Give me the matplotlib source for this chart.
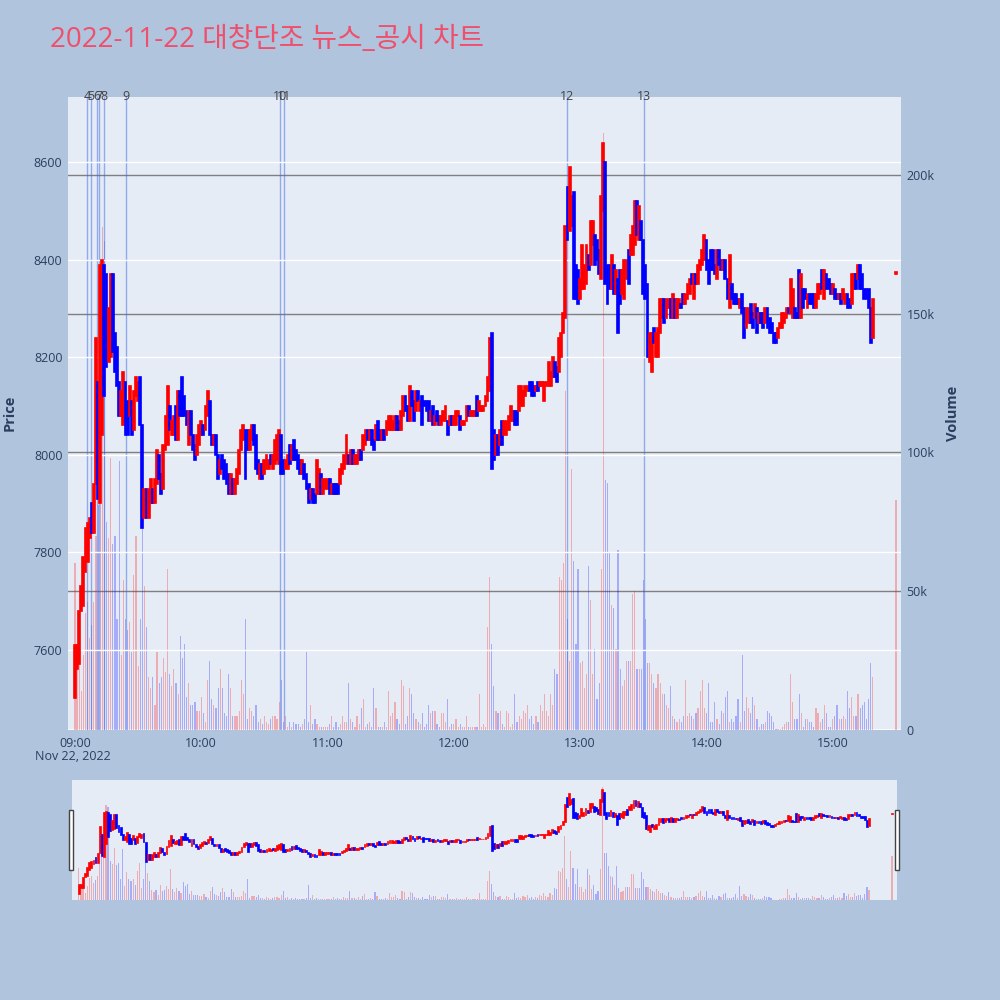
import numpy as np
import pandas as pd
import matplotlib
matplotlib.use("Agg")
import matplotlib.pyplot as plt
import matplotlib.dates as mdates
import matplotlib.transforms as mtransforms
from matplotlib.patches import Rectangle
from matplotlib.ticker import FixedLocator, FuncFormatter

plt.rcParams['font.family'] = ['Open Sans', 'Noto Sans CJK KR', 'DejaVu Sans']

# ---- 1분봉 데이터 (09:00 ~ 15:19) ----
session_start = "2022-11-22 09:00"

opens = [
    7500, 7560, 7570, 7680, 7690, 7760, 7780, 7830, 7900, 7840,
    7940, 8150, 7900, 8040, 8390, 8370, 8190, 8200, 8370, 8250,
    8220, 8150, 8080, 8060, 8150, 8110, 8080, 8110, 8050, 8120,
    8110, 8160, 8060, 7870, 7930, 7870, 7900, 7930, 7900, 7940,
    8000, 7960, 7930, 8010, 8020, 8100, 8040, 8040, 8100, 8030,
    8130, 8160, 8120, 8090, 8020, 8090, 8040, 8020, 8000, 8020,
    8040, 8060, 8050, 8080, 8110, 8040, 8020, 8040, 8000, 7960,
    8000, 7990, 7980, 7960, 7920, 7950, 7920, 7940, 7960, 8010,
    8030, 8050, 8050, 8010, 8030, 8060, 8040, 7990, 7950, 7980,
    7960, 7970, 7970, 8000, 7970, 7980, 7990, 7980, 8040, 7990,
    7970, 7970, 8020, 7990, 8030, 8010, 8000, 7990, 7960, 7980,
    7960, 7940, 7910, 7930, 7920, 7920, 7920, 7960, 7920, 7930,
    7930, 7950, 7920, 7940, 7940, 7940, 7940, 7960, 7970, 7980,
    8000, 7980, 8010, 7980, 7980, 7990, 8010, 8010, 8020, 8050,
    8030, 8050, 8030, 8030, 8070, 8050, 8030, 8050, 8040, 8050,
    8050, 8050, 8050, 8080, 8070, 8050, 8080, 8120, 8100, 8070,
    8130, 8110, 8090, 8130, 8090, 8120, 8110, 8110, 8110, 8070,
    8100, 8060, 8090, 8080, 8060, 8070, 8070, 8070, 8060, 8080,
    8060, 8060, 8080, 8080, 8060, 8060, 8070, 8100, 8080, 8080,
    8080, 8120, 8090, 8090, 8090, 8100, 8110, 8130, 8250, 8050,
    8000, 8040, 8020, 8070, 8040, 8040, 8050, 8070, 8070, 8090,
    8090, 8090, 8100, 8100, 8120, 8130, 8150, 8150, 8140, 8130,
    8150, 8140, 8140, 8110, 8140, 8140, 8140, 8160, 8190, 8180,
    8170, 8200, 8250, 8280, 8550, 8460, 8470, 8540, 8390, 8380,
    8320, 8340, 8340, 8350, 8410, 8390, 8430, 8450, 8440, 8420,
    8360, 8500, 8600, 8390, 8390, 8340, 8390, 8330, 8360, 8380,
    8330, 8320, 8360, 8420, 8410, 8410, 8430, 8520, 8440, 8480,
    8440, 8390, 8350, 8190, 8170, 8260, 8200, 8200, 8250, 8280,
    8320, 8280, 8300, 8320, 8280, 8320, 8280, 8300, 8310, 8330,
    8310, 8320, 8330, 8370, 8320, 8370, 8350, 8380, 8390, 8400,
    8440, 8400, 8420, 8420, 8390, 8360, 8420, 8400, 8380, 8400,
    8360, 8300, 8350, 8330, 8330, 8320, 8300, 8330, 8300, 8260,
    8270, 8310, 8290, 8280, 8300, 8270, 8290, 8290, 8270, 8300,
    8280, 8270, 8250, 8250, 8240, 8260, 8260, 8270, 8280, 8300,
    8290, 8280, 8300, 8290, 8380, 8280, 8340, 8340, 8300, 8330,
    8330, 8330, 8300, 8320, 8330, 8380, 8320, 8370, 8360, 8350,
    8330, 8340, 8330, 8320, 8330, 8320, 8310, 8330, 8320, 8310,
    8340, 8370, 8360, 8390, 8370, 8340, 8340, 8340, 8300, 8240,
]

closes = [
    7610, 7610, 7680, 7730, 7790, 7850, 7860, 7870, 7840, 7940,
    8240, 7910, 8390, 8400, 8120, 8180, 8300, 8370, 8210, 8170,
    8140, 8080, 8130, 8170, 8040, 8040, 8140, 8040, 8130, 8160,
    8150, 8060, 7850, 7930, 7870, 7930, 7950, 7900, 7950, 8010,
    7950, 7920, 8020, 8080, 8140, 8050, 8070, 8080, 8030, 8130,
    8080, 8080, 8080, 8060, 8090, 8040, 8010, 7990, 8040, 8060,
    8070, 8040, 8100, 8130, 8040, 8020, 8040, 8000, 7950, 7990,
    7970, 7950, 7940, 7920, 7960, 7920, 7950, 7970, 8010, 8050,
    8060, 7950, 8010, 8050, 8060, 8020, 7970, 7960, 7980, 7950,
    7990, 8000, 7990, 7980, 8000, 8030, 8040, 8050, 7960, 7960,
    7990, 8000, 7980, 8020, 7990, 7990, 7970, 7960, 7990, 7950,
    7930, 7900, 7930, 7900, 7900, 7990, 7970, 7920, 7950, 7950,
    7950, 7920, 7940, 7920, 7920, 7920, 7970, 7980, 8000, 8040,
    7980, 8010, 7980, 8000, 8000, 8010, 7990, 8040, 8050, 8030,
    8050, 8020, 8010, 8060, 8030, 8030, 8050, 8030, 8070, 8080,
    8080, 8070, 8080, 8050, 8050, 8090, 8120, 8090, 8070, 8140,
    8100, 8070, 8130, 8110, 8110, 8060, 8100, 8090, 8070, 8090,
    8060, 8080, 8070, 8060, 8080, 8090, 8100, 8040, 8080, 8060,
    8080, 8090, 8090, 8050, 8070, 8070, 8100, 8080, 8090, 8090,
    8090, 8080, 8110, 8100, 8100, 8120, 8160, 8240, 7970, 7990,
    8040, 8000, 8050, 8020, 8070, 8070, 8080, 8100, 8090, 8060,
    8060, 8140, 8140, 8130, 8140, 8140, 8130, 8120, 8120, 8140,
    8130, 8150, 8150, 8150, 8150, 8190, 8170, 8200, 8160, 8150,
    8240, 8250, 8290, 8470, 8440, 8590, 8530, 8320, 8320, 8310,
    8360, 8430, 8390, 8430, 8380, 8480, 8480, 8390, 8400, 8370,
    8530, 8640, 8350, 8310, 8340, 8410, 8330, 8380, 8250, 8310,
    8380, 8400, 8400, 8350, 8450, 8470, 8520, 8450, 8510, 8440,
    8330, 8320, 8200, 8250, 8250, 8230, 8250, 8260, 8320, 8320,
    8270, 8320, 8320, 8280, 8330, 8280, 8320, 8320, 8300, 8310,
    8330, 8350, 8360, 8350, 8370, 8350, 8390, 8400, 8420, 8450,
    8380, 8350, 8380, 8380, 8370, 8420, 8390, 8380, 8400, 8360,
    8320, 8410, 8320, 8310, 8310, 8310, 8320, 8290, 8240, 8300,
    8300, 8270, 8260, 8310, 8250, 8290, 8270, 8260, 8300, 8260,
    8250, 8250, 8230, 8230, 8260, 8270, 8290, 8290, 8300, 8290,
    8360, 8340, 8280, 8280, 8280, 8370, 8300, 8320, 8330, 8310,
    8310, 8300, 8330, 8350, 8350, 8340, 8380, 8340, 8340, 8330,
    8350, 8320, 8320, 8330, 8310, 8340, 8330, 8300, 8300, 8370,
    8370, 8340, 8390, 8340, 8340, 8320, 8320, 8300, 8230, 8320,
]

# 거래량 (천주)
volume_k = [
    60, 24, 32, 14, 27, 42, 46, 33, 38, 46,
    70, 81, 95, 181, 176, 75, 69, 98, 67, 70,
    40, 97, 27, 54, 40, 36, 39, 28, 56, 70,
    23, 40, 73, 52, 37, 19, 15, 19, 9, 28,
    17, 19, 26, 21, 58, 20, 16, 22, 17, 13,
    34, 26, 31, 12, 17, 9, 9, 10, 7, 7,
    12, 6, 3, 18, 25, 11, 9, 8, 15, 22,
    15, 6, 5, 20, 15, 5, 5, 5, 7, 18,
    13, 40, 4, 8, 7, 5, 9, 3, 4, 2,
    5, 3, 2, 4, 5, 5, 4, 10, 18, 3,
    5, 1, 3, 1, 3, 2, 2, 1, 2, 4,
    28, 3, 9, 2, 4, 2, 1, 1, 1, 1,
    1, 2, 5, 1, 3, 1, 2, 5, 3, 3,
    17, 4, 3, 1, 5, 2, 8, 11, 1, 2,
    3, 1, 15, 8, 1, 1, 1, 3, 1, 14,
    5, 6, 10, 4, 2, 18, 16, 2, 5, 15,
    13, 6, 4, 3, 2, 6, 1, 2, 9, 6,
    7, 7, 2, 1, 6, 6, 3, 11, 1, 2,
    2, 4, 1, 2, 1, 1, 5, 1, 1, 1,
    1, 1, 13, 1, 2, 1, 37, 55, 31, 16,
    7, 6, 7, 2, 1, 7, 6, 1, 2, 13,
    3, 5, 4, 7, 6, 9, 4, 5, 2, 5,
    3, 9, 7, 13, 7, 5, 13, 9, 22, 20,
    55, 54, 60, 122, 40, 25, 94, 61, 31, 58,
    24, 25, 15, 20, 59, 47, 20, 29, 11, 17,
    58, 215, 90, 89, 64, 45, 44, 29, 65, 22,
    16, 18, 25, 25, 25, 49, 50, 22, 22, 22,
    54, 40, 24, 24, 20, 17, 15, 20, 17, 13,
    13, 9, 8, 16, 5, 4, 3, 4, 3, 5,
    18, 5, 6, 5, 4, 6, 8, 14, 18, 8,
    6, 17, 3, 3, 10, 4, 2, 7, 6, 12,
    14, 3, 4, 3, 5, 11, 3, 27, 7, 12,
    8, 6, 12, 9, 4, 1, 2, 2, 3, 7,
    6, 5, 3, 0.5, 0.2, 0.2, 1, 2, 3, 3,
    20, 10, 4, 4, 13, 6, 1, 4, 4, 3,
    3, 1, 8, 6, 3, 4, 9, 6, 1, 1,
    4, 5, 9, 4, 4, 5, 4, 14, 8, 12,
    5, 5, 13, 8, 9, 10, 4, 11, 24, 19,
]

# 장 마감 동시호가 (15:30)
closing_time = "2022-11-22 15:30"
closing_open = 8370
closing_close = 8370
closing_volume_k = 83

# 뉴스/공시 시각
news_times = ["09:05:50", "09:07:28", "09:10:36", "09:11:24", "09:13:55",
              "09:24:22", "10:37:15", "10:39:17", "12:53:44", "13:30:18"]
news_labels = ["4", "5", "6", "7", "8", "9", "10", "11", "12", "13"]

title = "2022-11-22 대창단조 뉴스_공시 차트"

price_ticks = [7600, 7800, 8000, 8200, 8400, 8600]
volume_ticks = [0, 50, 100, 150, 200]

# ---- 준비 ----
BG = "#B0C4DE"
PLOT_BG = "#E5ECF6"
TXT = "#2a3f5f"

times = pd.date_range(session_start, periods=len(closes), freq="min")
times = times.append(pd.DatetimeIndex([closing_time]))
o = np.array(opens + [closing_open], dtype=float)
c = np.array(closes + [closing_close], dtype=float)
v = np.array(volume_k + [closing_volume_k], dtype=float)
x = mdates.date2num(times.to_pydatetime())

one_min = 1.0 / 1440
t0 = mdates.date2num(pd.Timestamp(session_start).to_pydatetime())
x_range = (t0 - 3.3 * one_min, t0 + 392.4 * one_min)
price_range = (7435, 8734)
vol_range = (0, 228)

up = c >= o
colors = np.where(up, "#FF0000", "#0000FF")


def draw_chart(ax_p, ax_v, body_lw):
    lo = np.minimum(o, c)
    h = np.maximum(np.abs(c - o), 5)
    ax_v.bar(x, v, width=0.55 * one_min, color=colors, alpha=0.27, linewidth=0, zorder=2)
    ax_p.bar(x, h, bottom=lo, width=0.9 * one_min, color=colors, edgecolor=colors,
             linewidth=body_lw, zorder=3)
    ax_p.set_xlim(*x_range)
    ax_v.set_xlim(*x_range)
    ax_p.set_ylim(*price_range)
    ax_v.set_ylim(*vol_range)
    for a in (ax_p, ax_v):
        for s in a.spines.values():
            s.set_visible(False)


fig = plt.figure(figsize=(10, 10), dpi=100, facecolor=BG)

# main chart: volume axis is host (right), price is twin (left, drawn on top)
ax_v = fig.add_axes([0.068, 0.27, 0.833, 0.633], facecolor=PLOT_BG)
ax_p = ax_v.twinx()
ax_v.yaxis.tick_right()
ax_p.yaxis.tick_left()

draw_chart(ax_p, ax_v, 1.2)

ax_v.yaxis.set_major_locator(FixedLocator(volume_ticks))
ax_v.yaxis.set_major_formatter(FuncFormatter(lambda val, pos: "0" if val == 0 else f"{int(val)}k"))
ax_v.grid(axis="y", color="#808080", linewidth=1)
ax_v.set_axisbelow(True)
ax_v.axhline(0, color="white", linewidth=2, zorder=1)

ax_p.yaxis.set_major_locator(FixedLocator(price_ticks))
ax_p.grid(axis="y", color="white", linewidth=1)
ax_p.set_axisbelow(True)

ax_v.xaxis.set_major_locator(mdates.HourLocator())
ax_v.xaxis.set_major_formatter(mdates.DateFormatter("%H:%M"))

ax_v.tick_params(axis="x", length=0, pad=5, labelsize=9, labelcolor=TXT)
ax_v.tick_params(axis="y", length=0, pad=4, labelsize=9, labelcolor=TXT)
ax_p.tick_params(axis="y", length=0, pad=4, labelsize=9, labelcolor=TXT)

# news markers
label_tf = mtransforms.blended_transform_factory(ax_p.transData, ax_p.transAxes)
for hhmmss, lab in zip(news_times, news_labels):
    nx = mdates.date2num(pd.Timestamp(f"2022-11-22 {hhmmss}").to_pydatetime())
    ax_v.axvline(nx, color="royalblue", alpha=0.5, linewidth=1, zorder=2.5)
    ax_p.text(nx, 1.0, lab, transform=label_tf, ha="center", va="center",
              fontsize=9, color="#444444", clip_on=False)

# texts
fig.text(0.05, 0.96, title, fontsize=20, color="#EF4F6B", ha="left", va="center")
fig.text(0.010, 0.587, "Price", rotation=90, ha="center", va="center",
         fontsize=10.5, fontweight="bold", color=TXT)
fig.text(0.953, 0.587, "Volume", rotation=90, ha="center", va="center",
         fontsize=10.5, fontweight="bold", color=TXT)
fig.text(0.073, 0.243, "Nov 22, 2022", ha="center", va="center", fontsize=9, color=TXT)

# range slider
ax_sv = fig.add_axes([0.072, 0.10, 0.825, 0.12], facecolor=PLOT_BG)
ax_sp = ax_sv.twinx()
draw_chart(ax_sp, ax_sv, 0.5)
for a in (ax_sv, ax_sp):
    a.set_xticks([])
    a.set_yticks([])

for hx in (0.069, 0.895):
    fig.patches.append(Rectangle((hx, 0.13), 0.004, 0.06, transform=fig.transFigure,
                                 facecolor="white", edgecolor="#444444", linewidth=1))

fig.savefig("out.png", dpi=100, facecolor=BG)
